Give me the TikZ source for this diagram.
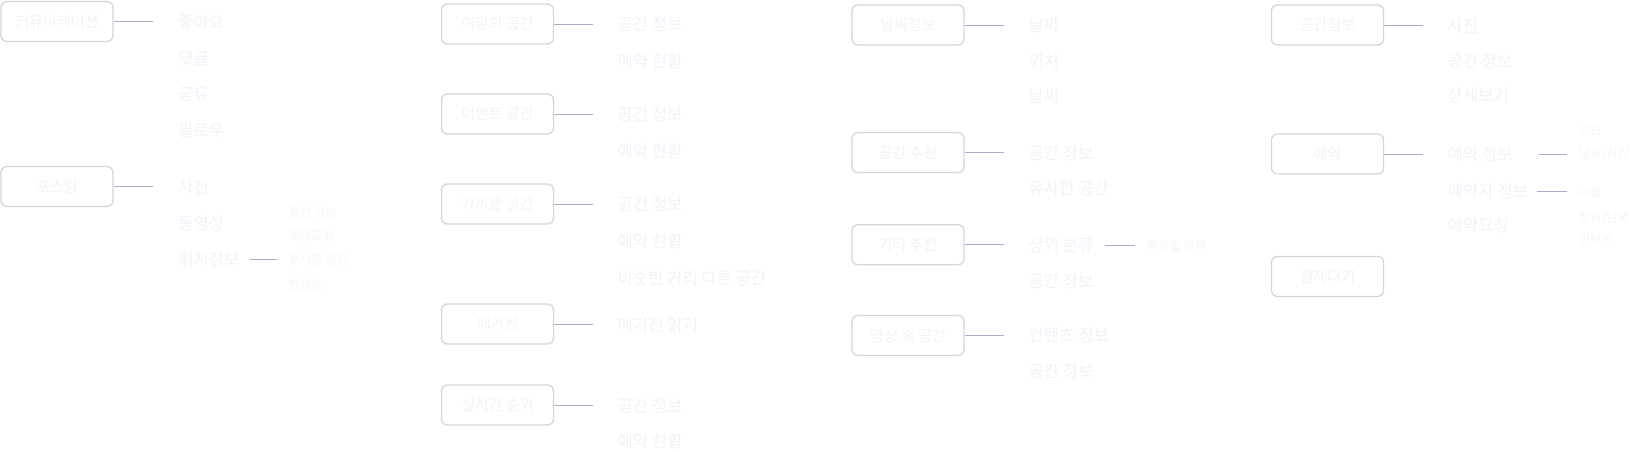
\documentclass[tikz,border=0pt]{standalone}
\usepackage{fontspec}
\setmainfont{Noto Sans CJK KR}
\usetikzlibrary{positioning}
\definecolor{boxline}{RGB}{214,214,216}
\definecolor{linkline}{RGB}{166,171,202}
\definecolor{itemgray}{RGB}{242,242,250}
\definecolor{subgray}{RGB}{245,245,251}

\begin{document}
\begin{tikzpicture}[
  x=0.5pt, y=-0.5pt,
  menubox/.style={draw=boxline, line width=0.65pt, rounded corners=3pt, minimum width=56pt, minimum height=20pt, inner sep=0pt, font=\fontsize{7.5}{9}\selectfont, text=itemgray},
  itemtext/.style={anchor=west, inner sep=0pt, font=\fontsize{8.3}{10}\selectfont, text=itemgray},
  subtext/.style={anchor=west, inner sep=0pt, font=\fontsize{6.2}{8}\selectfont, text=subgray},
  link/.style={draw=linkline, line width=0.45pt, shorten >=12.3pt},
  sublink/.style={draw=linkline, line width=0.45pt, shorten >=5.5pt}
]
\useasboundingbox[fill=white] (0,0) rectangle (1631,451);

% Column 1: community and posting
\node[menubox] (comm) at (57,21.5) {커뮤니케이션};
\node[menubox] (post) at (57,186.5) {포스팅};
\foreach \txt/\y [count=\i] in {좋아요/22, 댓글/58, 공유/95, 팔로우/130}
  \node[itemtext] (comm-\i) at (178,\y) {\txt};
\foreach \txt/\y [count=\i] in {사진/187, 동영상/223, 위치정보/259}
  \node[itemtext] (post-\i) at (178,\y) {\txt};
\foreach \txt/\y [count=\i] in {공간 정보/212.7, 예약요청/236, 유사한 공간/260, 컨텐츠/285}
  \node[subtext] (locsub-\i) at (288,\y) {\txt};
\draw[link] (comm.east) -- (comm.east -| comm-1.west);
\draw[link] (post.east) -- (post.east -| post-1.west);
\draw[sublink, shorten <=5pt] (post-3.east) -- (post-3.east -| locsub-3.west);

% Column 2: space menus
\node[menubox] (month) at (497.5,24) {이달의 공간};
\node[menubox] (event) at (497.5,114) {이벤트 공간};
\node[menubox] (near) at (497.5,204) {가까운 공간};
\node[menubox] (mag) at (497.5,324) {매거진};
\node[menubox] (rank) at (497.5,405) {실시간 순위};
\foreach \txt/\y [count=\i] in {공간 정보/24.3, 예약 현황/61}
  \node[itemtext] (month-\i) at (617.3,\y) {\txt};
\foreach \txt/\y [count=\i] in {공간 정보/114.3, 예약 현황/151}
  \node[itemtext] (event-\i) at (617.3,\y) {\txt};
\foreach \txt/\y [count=\i] in {공간 정보/204.3, 예약 현황/241.7, 비슷한 거리 다른 공간/278.3}
  \node[itemtext] (near-\i) at (617.3,\y) {\txt};
\node[itemtext] (mag-1) at (617.3,325) {매거진 읽기};
\foreach \txt/\y [count=\i] in {공간 정보/406, 예약 현황/441.7}
  \node[itemtext] (rank-\i) at (617.3,\y) {\txt};
\foreach \b in {month, event, near, mag, rank}
  \draw[link] (\b.east) -- (\b.east -| \b-1.west);

% Column 3: recommendations
\node[menubox] (weather) at (908,25) {날씨정보};
\node[menubox] (rec) at (908,152.5) {공간 추천};
\node[menubox] (other) at (908,244.7) {기타 추천};
\node[menubox] (video) at (908,335.5) {영상 속 공간};
\foreach \txt/\y [count=\i] in {날짜/25, 위치/61.7, 날씨/96.7}
  \node[itemtext] (weather-\i) at (1028.3,\y) {\txt};
\foreach \txt/\y [count=\i] in {공간 정보/153.3, 유사한 공간/188.3}
  \node[itemtext] (rec-\i) at (1028.3,\y) {\txt};
\foreach \txt/\y [count=\i] in {상위 분류/245, 공간 정보/281.7}
  \node[itemtext] (other-\i) at (1028.3,\y) {\txt};
\foreach \txt/\y [count=\i] in {컨텐츠 정보/335, 공간 정보/371.7}
  \node[itemtext] (video-\i) at (1028.3,\y) {\txt};
\node[subtext] (feature) at (1146,246) {특징별 분류};
\foreach \b in {weather, rec, other, video}
  \draw[link] (\b.east) -- (\b.east -| \b-1.west);
\draw[sublink, shorten <=5.5pt] (other-1.east) -- (other-1.east -| feature.west);

% Column 4: space detail and booking
\node[menubox] (info) at (1327.5,25) {공간정보};
\node[menubox] (book) at (1327.5,154) {예약};
\node[menubox] (pay) at (1327.5,276.5) {결제대기};
\foreach \txt/\y [count=\i] in {사진/26, 공간 정보/61.7, 상세보기/95}
  \node[itemtext] (info-\i) at (1447.3,\y) {\txt};
\foreach \txt/\y [count=\i] in {예약 정보/154.3, 예약자 정보/191, 예약요청/225}
  \node[itemtext] (book-\i) at (1447.3,\y) {\txt};
\foreach \txt/\y [count=\i] in {인원/129.3, {날짜/시간}/154.3, 이름/193.3, {회사/단체}/218.3, 컨텐츠/240}
  \node[subtext] (booksub-\i) at (1578.3,\y) {\txt};
\foreach \b in {info, book}
  \draw[link] (\b.east) -- (\b.east -| \b-1.west);
\draw[sublink, shorten <=12.8pt] (book-1.east) -- (book-1.east -| booksub-2.west);
\draw[sublink, shorten <=4.5pt] (book-2.east) -- (book-2.east -| booksub-3.west);

\end{tikzpicture}
\end{document}
